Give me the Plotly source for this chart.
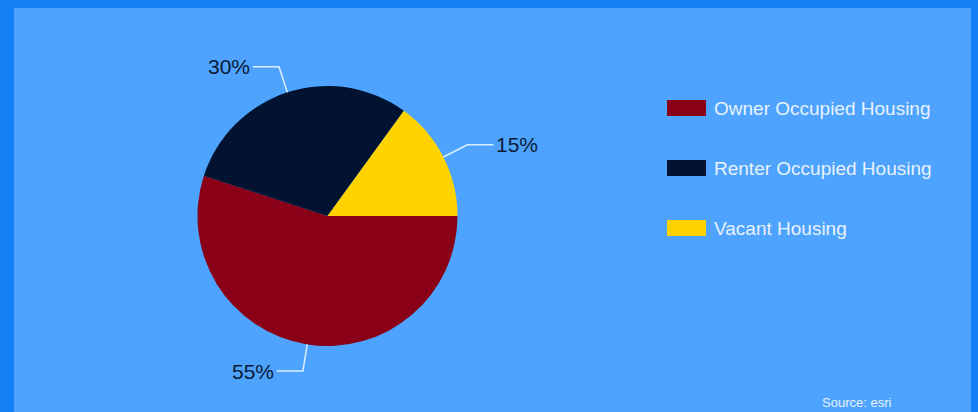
import math
import plotly.graph_objects as go

# Housing occupancy shares
categories = ["Owner Occupied Housing", "Renter Occupied Housing", "Vacant Housing"]
shares = [55, 30, 15]
slice_colors = ["#8a0017", "#011331", "#ffd300"]
source_text = "Source: esri"

W, H = 978, 412
CX, CY, R = 327.5, 216.0, 130.0   # pie centre and radius in pixels
FONT = "Liberation Sans, Arial, sans-serif"
LINE_COLOR = "#dcefff"
LABEL_COLOR = "#0a1a36"
TEXT_COLOR = "#e8f2ff"


def px(x):
    return x / W


def py(y):
    return 1 - y / H


fig = go.Figure(
    go.Pie(
        labels=categories,
        values=shares,
        sort=False,
        direction="clockwise",
        rotation=90,
        marker=dict(colors=slice_colors, line=dict(width=0)),
        textinfo="none",
        hoverinfo="label+percent",
        showlegend=False,
        domain=dict(x=[px(CX - R), px(CX + R)], y=[py(CY + R), py(CY - R)]),
    )
)

shapes = []
annotations = []

# Percentage labels with elbow leader lines at each slice's mid-angle
total = sum(shares)
cum = 0.0
for value in shares:
    mid = math.radians(-(cum + value / 2) / total * 360)
    cum += value
    c, s = math.cos(mid), math.sin(mid)
    x0, y0 = CX + R * c, CY - R * s
    x1, y1 = CX + (R + 27) * c, CY - (R + 27) * s
    side = 1 if c >= 0 else -1
    x2, y2 = x1 + side * 26, y1
    shapes.append(dict(
        type="path", xref="paper", yref="paper",
        path=f"M {px(x0)},{py(y0)} L {px(x1)},{py(y1)} L {px(x2)},{py(y2)}",
        line=dict(color=LINE_COLOR, width=1.5),
    ))
    annotations.append(dict(
        x=px(x2 + side * 1), y=py(y2), xref="paper", yref="paper",
        xanchor="left" if side > 0 else "right", yanchor="middle",
        text=f"{round(value / total * 100)}%", showarrow=False,
        font=dict(family=FONT, size=21, color=LABEL_COLOR),
    ))

# Legend drawn as wide swatches with labels
for i, (name, col) in enumerate(zip(categories, slice_colors)):
    yc = 108 + 60 * i
    shapes.append(dict(
        type="rect", xref="paper", yref="paper",
        x0=px(667), x1=px(706), y0=py(yc + 8), y1=py(yc - 8),
        fillcolor=col, line=dict(width=0),
    ))
    annotations.append(dict(
        x=px(712), y=py(yc), xref="paper", yref="paper",
        xanchor="left", yanchor="middle", text=name, showarrow=False,
        font=dict(family=FONT, size=19, color=TEXT_COLOR),
    ))

annotations.append(dict(
    x=px(893), y=py(402), xref="paper", yref="paper",
    xanchor="right", yanchor="middle", text=source_text, showarrow=False,
    font=dict(family=FONT, size=13, color=TEXT_COLOR),
))

# Frame around the panel
BORDER = "#1380f6"
for x0, x1, y0, y1 in [(0, 14, 0, H), (0, W, 0, 8), (971, W, 0, H)]:
    shapes.append(dict(
        type="rect", xref="paper", yref="paper", layer="above",
        x0=px(x0), x1=px(x1), y0=py(y1), y1=py(y0),
        fillcolor=BORDER, line=dict(width=0),
    ))

fig.update_layout(
    width=W, height=H,
    margin=dict(l=0, r=0, t=0, b=0),
    paper_bgcolor="#4da3fd",
    plot_bgcolor="#4da3fd",
    shapes=shapes,
    annotations=annotations,
    showlegend=False,
)

fig.write_html("out.html")
